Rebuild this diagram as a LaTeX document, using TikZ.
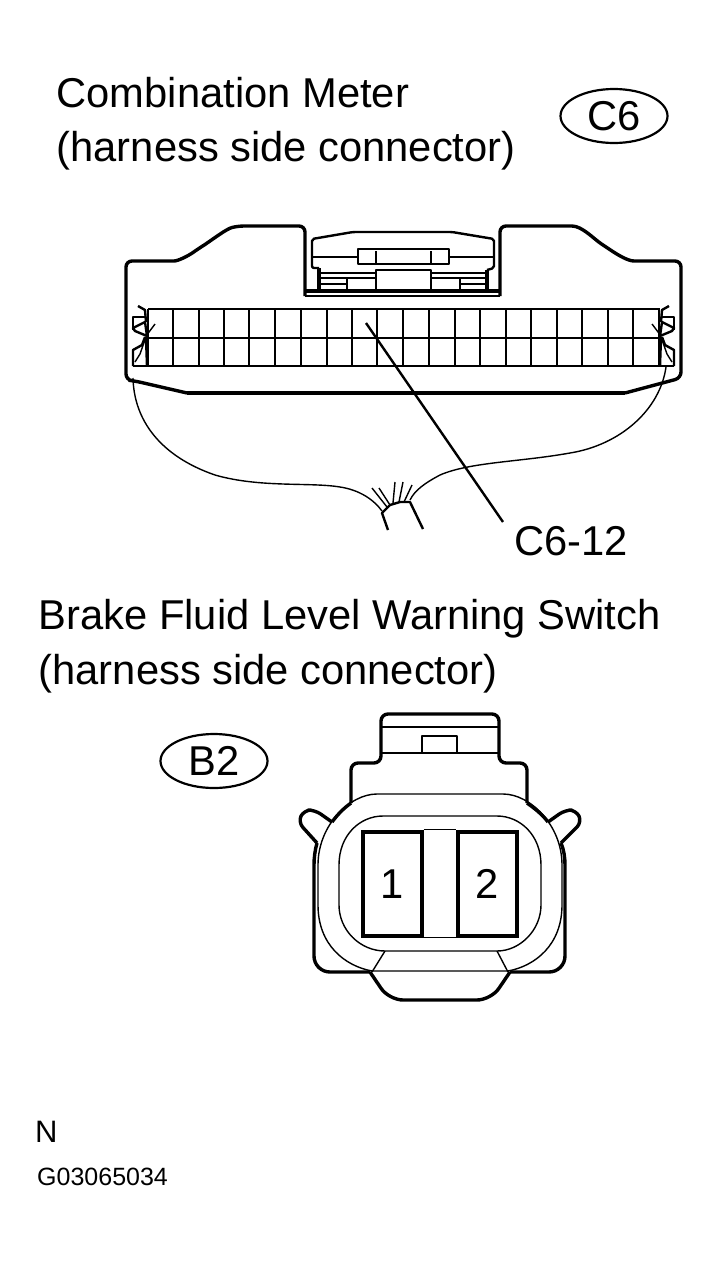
\documentclass[tikz,border=0pt]{standalone}
\usepackage{fontspec}
\setmainfont{Liberation Sans}
\usetikzlibrary{shapes.geometric}
\tikzset{
  heavy/.style={line width=3.4,line join=round},
  medium/.style={line width=2.4,line join=round},
  fine/.style={line width=1.4,line join=round},
  word/.style={anchor=base west,inner sep=0,font=\fontsize{41.7}{50}\selectfont},
  mark oval/.style={draw,ellipse,line width=2.2,minimum width=107,minimum height=54,inner sep=0,font=\fontsize{41.7}{50}\selectfont},
  pin digit/.style={inner sep=0,font=\fontsize{41.7}{50}\selectfont},
  latch/.pic={
    \draw [fine] (133,330)--(133,317)--(145,317);
    \draw [medium] (138,306)--(145,310)--(146,322);
    \draw [medium] (133,328)--(145,322)--(147,336)--(135,331)--cycle;
    \draw [fine] (146,336)--(155,324);
    \draw [medium] (145,337)--(142,345)--(133,350)--(133,366);
    \draw [fine] (146,337)--(140,354)--(135,362);
    \draw [medium] (146,337)--(147,366);
  }
}
\begin{document}
\begin{tikzpicture}[x=1pt,y=-1pt]
\useasboundingbox (0,0) rectangle (719,1261);
% titles
\node [word] (meter) at (56.5,107) {Combination Meter};
\node [word] (meterside) at (56.5,161) {(harness side connector)};
\node [mark oval] (cmark) at (614,116) {C6};
\node [word] (switch) at (38.5,629) {Brake Fluid Level Warning Switch};
\node [word] (switchside) at (38.5,684) {(harness side connector)};
\node [mark oval] (bmark) at (214,761) {B2};
% combination meter connector
\draw [heavy,rounded corners=6] (305,296)--(305,226)--(238,226)..controls (226,229) and (212,240)..(198,249)..controls (188,256) and (178,261)..(168,261)--(126,261)--(126,380)--(135,381)--(187,393);
\draw [heavy] (187,393)--(625,393);
\draw [heavy,rounded corners=6] (625,393)--(681,378)--(681,261)--(640,261)..controls (628,261) and (618,255)..(606,247)..controls (594,239) and (582,226)..(566,226)--(500,226)--(500,296);
\draw [fine] (305,296)--(500,296);
\draw [heavy] (305,291)--(319,291);
\draw [heavy] (487,291)--(500,291);
% latch block
\draw [medium,rounded corners=2] (319,268)--(312,268)--(312,239)--(353,232)--(452,232)--(494,239)--(494,268)--(487,270);
\draw [heavy] (319,268)--(319,291)--(487,291)--(487,270);
\draw [fine] (312,257)--(358,257);
\draw [fine] (449,257)--(494,257);
\draw [medium] (358,249) rectangle (449,264);
\draw [medium] (376,251)--(376,264);
\draw [medium] (431,251)--(431,264);
\draw [medium] (376,291)--(376,270)--(431,270)--(431,291);
\draw [fine] (319,273)--(376,273);
\draw [fine] (431,273)--(487,273);
\draw [medium] (319,278)--(376,278);
\draw [medium] (431,278)--(487,278);
\draw [medium] (347,278)--(347,291);
\draw [medium] (460,278)--(460,291);
\draw [fine] (319,284)--(347,284);
\draw [fine] (460,284)--(487,284);
% cavities
\draw [medium] (148,309)--(660,309);
\draw [medium] (148,338)--(660,338);
\draw [medium] (133,366)--(674,366);
\foreach \c in {148,173,249,275,377,480,582,659} \draw [fine] (\c,309)--(\c,366);
\foreach \c in {199,224,301,327,352,403,429,455,506,531,557,608,633} \draw [medium] (\c,309)--(\c,366);
\pic at (0,0) {latch};
\pic [xscale=-1] at (807,0) {latch};
% wires
\draw [fine] (133,378)..controls (134,420) and (160,456)..(215,475)..controls (260,488) and (310,482)..(340,487)..controls (360,490) and (374,500)..(382,511);
\draw [fine] (410,500)..controls (415,490) and (425,483)..(440,475)..controls (470,462) and (520,462)..(570,453)..controls (620,445) and (660,410)..(666,367);
\draw [medium] (388,530)--(382,513)--(390,505)--(400,502)--(410,502)--(423,529);
\draw [fine] (372,488)--(387,507);
\draw [fine] (379,488)--(390,505);
\draw [fine] (395,482)--(393,503);
\draw [fine] (403,482)--(399,502);
\draw [fine] (412,485)--(404,502);
% pin call out
\coordinate (cavity) at (366,323);
\node [word] (pinname) at (514,555) {C6-12};
\coordinate (pinfoot) at (503,522);
\draw [medium] (cavity)--(pinfoot);
% brake fluid switch connector
\draw [heavy,rounded corners=7] (351,803)--(351,763)--(381,763)--(381,714)--(499,714)--(499,763)--(527,763)--(527,803);
\draw [heavy] (351,803)..controls (344,808) and (338,814)..(332,822);
\draw [heavy] (527,803)..controls (534,808) and (542,814)..(548,822);
\draw [heavy,rounded corners=7] (332,822)--(315,810)--(304,810)--(298,822)--(317,843);
\draw [heavy,rounded corners=7] (548,822)--(565,810)--(576,810)--(582,822)--(561,843);
\draw [heavy] (317,843)..controls (315,850) and (314,858)..(314,865);
\draw [heavy] (561,843)..controls (564,850) and (565,858)..(565,865);
\draw [heavy,rounded corners=16] (314,865)--(314,972)--(370,972);
\draw [heavy,rounded corners=16] (565,865)--(565,972)--(510,972);
\draw [heavy,rounded corners=14] (370,972)--(389,1000)--(491,1000)--(510,972);
\draw [fine] (381,727)--(499,727);
\draw [fine] (381,753)--(499,753);
\draw [fine] (422,753)--(422,736)--(457,736)--(457,753);
% sealing ring
\draw [fine] (318,865)..controls (318,825) and (350,794)..(377,794)--(503,794)..controls (530,794) and (562,825)..(562,865)--(562,905)..controls (562,945) and (535,966)..(508,971)--(372,971)..controls (345,966) and (318,945)..(318,905)--cycle;
\draw [fine] (339,865)..controls (339,835) and (360,816)..(383,816)--(497,816)..controls (520,816) and (541,835)..(541,865)--(541,905)..controls (541,930) and (520,951)..(497,951)--(385,951)..controls (360,951) and (339,930)..(339,905)--cycle;
\draw [fine] (385,951)--(372,972);
\draw [fine] (497,951)--(508,972);
% terminals
\node [draw,line width=4,minimum width=59,minimum height=104,inner sep=0] (pinone) at (392,883.5) {};
\node [draw,line width=4,minimum width=59,minimum height=104,inner sep=0] (pintwo) at (487.5,883.5) {};
\node [pin digit] (one) at (392,884) {1};
\node [pin digit] (two) at (487,884) {2};
\draw [fine] (pinone.north east)--(pintwo.north west);
\draw [fine] (pinone.south east)--(pintwo.south west);
% figure codes
\node [anchor=base west,inner sep=0,font=\fontsize{31}{36}\selectfont] (code) at (35,1142) {N};
\node [anchor=base west,inner sep=0,font=\fontsize{25}{30}\selectfont] (number) at (37,1185) {G03065034};
\end{tikzpicture}
\end{document}
